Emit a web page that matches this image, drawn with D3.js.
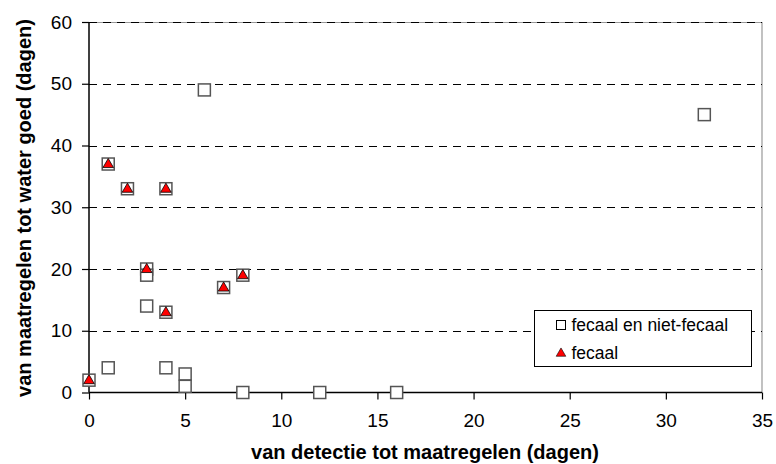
<!DOCTYPE html>
<html>
<head>
<meta charset="utf-8">
<script src="https://cdn.jsdelivr.net/npm/d3@7"></script>
<style>
  body { margin: 0; background: #fff; }
  text { font-family: "Liberation Sans", Arial, sans-serif; }
</style>
</head>
<body>
<div id="chart"></div>
<script>

// data: [dagen detectie->maatregelen, dagen maatregelen->water goed]
var allePunten = [
  [0, 2], [1, 37], [1, 4], [2, 33], [3, 20], [3, 19], [3, 14], [4, 33], [4, 13],
  [4, 4], [5, 3], [5, 1], [6, 49], [7, 17], [8, 19], [8, 0], [12, 0], [16, 0], [32, 45]
];
var fecaalPunten = [
  [0, 2], [1, 37], [2, 33], [3, 20], [4, 33], [4, 13], [7, 17], [8, 19]
];
var xTicks = [0, 5, 10, 15, 20, 25, 30, 35];
var yTicks = [0, 10, 20, 30, 40, 50, 60];
var legendLabels = ["fecaal en niet-fecaal", "fecaal"];

var width = 776, height = 464;
var margin = { top: 22, right: 14, bottom: 71.5, left: 89 };
var w = width - margin.left - margin.right,
    h = height - margin.top - margin.bottom;

var svg = d3.select("#chart")
    .append("svg")
    .attr("width", width)
    .attr("height", height);

var g = svg.append("g")
    .attr("transform", "translate(" + margin.left + "," + margin.top + ")");

var x = d3.scaleLinear().domain([0, 35]).range([0, w]);
var y = d3.scaleLinear().domain([0, 60]).range([h, 0]);

// plot border (grey top + right)
g.append("path")
    .attr("d", "M0,0.5H" + w + "V" + h)
    .attr("fill", "none")
    .attr("stroke", "#999")
    .attr("stroke-width", 1.2);

// dashed gridlines
g.selectAll(".grid")
    .data(yTicks.filter(function (d) { return d > 0; }))
    .enter()
    .append("line")
    .attr("class", "grid")
    .attr("x1", 0)
    .attr("x2", w)
    .attr("y1", function (d) { return Math.round(y(d)) + 0.5; })
    .attr("y2", function (d) { return Math.round(y(d)) + 0.5; })
    .attr("stroke", "#000")
    .attr("stroke-width", 1)
    .attr("stroke-dasharray", "8,6");

// axes
var xAxis = g.append("g")
    .attr("transform", "translate(0," + h + ")")
    .call(d3.axisBottom(x).tickValues(xTicks).tickSize(7).tickPadding(14));

var yAxis = g.append("g")
    .call(d3.axisLeft(y).tickValues(yTicks).tickSize(7).tickPadding(10));

[xAxis, yAxis].forEach(function (a) {
  a.select(".domain").attr("stroke", "#000").attr("stroke-width", 1.5);
  a.selectAll(".tick line").attr("stroke", "#000").attr("stroke-width", 1.2);
  a.selectAll(".tick text")
    .attr("fill", "#000")
    .style("font-size", "19px")
    .style("font-family", "'Liberation Sans', Arial, sans-serif");
});
yAxis.select(".domain").attr("d", "M0," + h + "V0");
xAxis.select(".domain").attr("d", "M0,0H" + w);

// squares
var sq = 12;
g.selectAll(".sq")
    .data(allePunten)
    .enter()
    .append("rect")
    .attr("class", "sq")
    .attr("x", function (d) { return x(d[0]) - sq / 2; })
    .attr("y", function (d) { return y(d[1]) - sq / 2; })
    .attr("width", sq)
    .attr("height", sq)
    .attr("fill", "#fff")
    .attr("stroke", "#555")
    .attr("stroke-width", 1.5);

// triangles
var tri = d3.symbol().type(d3.symbolTriangle).size(48);
g.selectAll(".tri")
    .data(fecaalPunten)
    .enter()
    .append("path")
    .attr("class", "tri")
    .attr("d", tri)
    .attr("transform", function (d) { return "translate(" + x(d[0]) + "," + (y(d[1]) + 0.5) + ")"; })
    .attr("fill", "#ff0000")
    .attr("stroke", "#000")
    .attr("stroke-width", 0.8);

// axis titles
svg.append("text")
    .attr("x", 425)
    .attr("y", 459)
    .attr("text-anchor", "middle")
    .style("font-size", "20px")
    .style("font-weight", "bold")
    .text("van detectie tot maatregelen (dagen)");

svg.append("text")
    .attr("transform", "translate(31,208) rotate(-90)")
    .attr("text-anchor", "middle")
    .style("font-size", "20px")
    .style("font-weight", "bold")
    .text("van maatregelen tot water goed (dagen)");

// legend
var legend = svg.append("g").attr("transform", "translate(534.5,310.5)");
legend.append("rect")
    .attr("width", 217)
    .attr("height", 56)
    .attr("fill", "#fff")
    .attr("stroke", "#000")
    .attr("stroke-width", 1);

legend.append("rect")
    .attr("x", 22)
    .attr("y", 10)
    .attr("width", 9)
    .attr("height", 9)
    .attr("fill", "#fff")
    .attr("stroke", "#000")
    .attr("stroke-width", 1);

legend.append("path")
    .attr("d", d3.symbol().type(d3.symbolTriangle).size(40))
    .attr("transform", "translate(26.5,43)")
    .attr("fill", "#ff0000")
    .attr("stroke", "#000")
    .attr("stroke-width", 0.6);

legend.selectAll(".legtext")
    .data(legendLabels)
    .enter()
    .append("text")
    .attr("class", "legtext")
    .attr("x", 37)
    .attr("y", function (d, i) { return 20.5 + i * 28; })
    .style("font-size", "17.5px")
    .text(function (d) { return d; });

</script>
</body>
</html>
